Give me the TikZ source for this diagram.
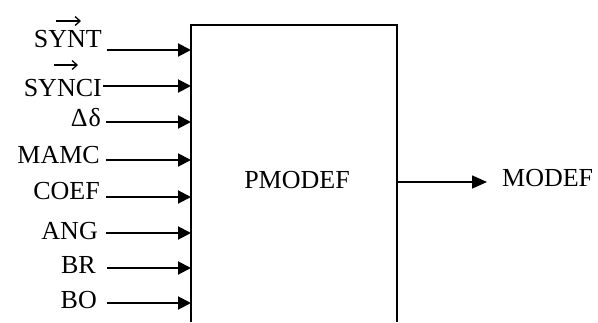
\documentclass[tikz,border=0pt]{standalone}
\usepackage{fontspec}
\setmainfont{Liberation Serif}
\usetikzlibrary{arrows.meta}
\begin{document}
\begin{tikzpicture}[x=1pt,y=-1pt,
  lab/.style={anchor=base east, inner sep=0pt, text height=18pt, text depth=0pt, font=\fontsize{26}{30}\selectfont},
  vecarrow/.style={line width=1.3pt, -{Straight Barb[length=5pt,width=9pt]}},
  inarrow/.style={line width=2pt, -{Triangle[length=13pt,width=13pt]}},
  outarrow/.style={line width=1.6pt, -{Triangle[length=15pt,width=13pt]}},
  boxline/.style={line width=2pt}]
\useasboundingbox (0,0) rectangle (598,322);
% box (open at the bottom)
\node[minimum width=206pt, minimum height=297pt, inner sep=0pt, anchor=north west] (box) at (191,25) {};
\draw[boxline] (box.south west) -- (box.north west) -- (box.north east) -- (box.south east);
\node[lab, anchor=base] (pm) at (297,188) {PMODEF};
% labels
\node[lab] (l1) at (102,47) {SYNT};
\node[lab] (l2) at (102,96) {SYNCI};
\node[lab] (l3) at (101,126) {Δ\kern1ptδ};
\node[lab] (l4) at (100,163) {MAMC};
\node[lab] (l5) at (100,199) {COEF};
\node[lab] (l6) at (98,239) {ANG};
\node[lab] (l7) at (96,273) {BR};
\node[lab] (l8) at (97,308) {BO};
% vector marks over SYNT and SYNCI
\coordinate (v1a) at (56,21);
\coordinate (v1b) at (81,21);
\coordinate (v2a) at (54,65);
\coordinate (v2b) at (78,65);
\draw[vecarrow] (v1a) -- (v1b);
\draw[vecarrow] (v2a) -- (v2b);
% arrow starts
\coordinate (s1) at (107,50);
\coordinate (s2) at (103,86);
\coordinate (s3) at (106,122);
\coordinate (s4) at (106,160);
\coordinate (s5) at (106,197);
\coordinate (s6) at (106,233);
\coordinate (s7) at (107,268);
\coordinate (s8) at (107,303);
\foreach \i in {1,...,8} {
  \draw[inarrow] (s\i) -- (s\i -| box.west);
}
% output
\coordinate (o) at (397,182);
\node[lab, anchor=base west] (mo) at (502,186) {MODEF};
\draw[outarrow] (o) -- (487,182);
\end{tikzpicture}
\end{document}
